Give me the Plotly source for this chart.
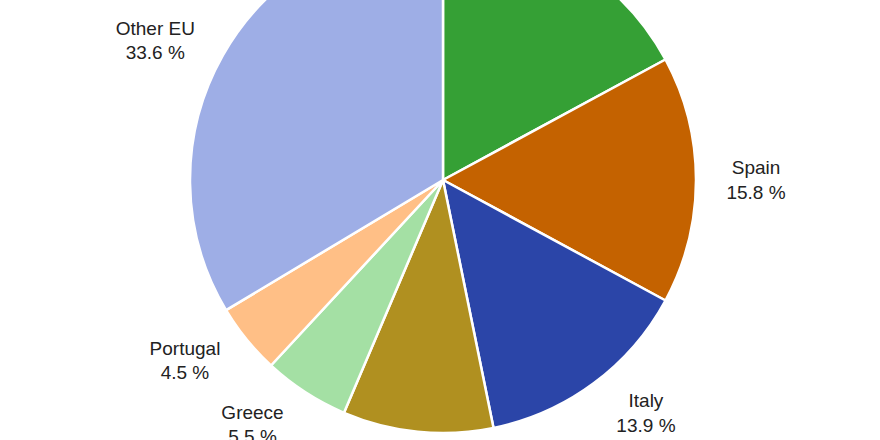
import plotly.graph_objects as go

labels = ["France", "Spain", "Italy", "Germany", "Greece", "Portugal", "Other EU"]
values = [17.1, 15.8, 13.9, 9.6, 5.5, 4.5, 33.6]
colors = ["#35a035", "#c46200", "#2b45a8", "#b09020", "#a4e0a4", "#ffbf86", "#9eaee6"]

W, H = 880, 760
SHIFT = 253  # part of the figure scrolled above the visible window
cx, cy, r = 443, 180 + SHIFT, 253
r_lab = 272  # radius of the invisible pie that carries the outside labels


def dom(rad):
    return dict(x=[(cx - rad) / W, (cx + rad) / W],
                y=[1 - (cy + rad) / H, 1 - (cy - rad) / H])


fig = go.Figure()
fig.add_trace(go.Pie(
    labels=labels,
    values=values,
    sort=False,
    direction="clockwise",
    rotation=0,
    marker=dict(colors=colors, line=dict(color="white", width=2.5)),
    textinfo="none",
    showlegend=False,
    hoverinfo="label+value",
    automargin=False,
    domain=dom(r),
))
fig.add_trace(go.Pie(
    labels=labels,
    values=values,
    sort=False,
    direction="clockwise",
    rotation=0,
    marker=dict(colors=["rgba(0,0,0,0)"] * len(values), line=dict(width=0)),
    texttemplate="%{label}<br>%{value:.1f} %",
    textposition="outside",
    textfont=dict(family="Liberation Sans, Arial, sans-serif", size=19, color="#222222"),
    showlegend=False,
    hoverinfo="skip",
    automargin=False,
    domain=dom(r_lab),
))

fig.update_layout(
    width=W, height=H,
    margin=dict(l=0, r=0, t=0, b=0),
    paper_bgcolor="white",
    plot_bgcolor="white",
)

post = (
    "document.body.style.margin='0';"
    "document.body.style.overflow='hidden';"
    "var d=document.getElementById('{plot_id}');"
    "d.style.position='relative';"
    f"d.style.top='-{SHIFT}px';"
)
fig.write_html("out.html", post_script=post)
